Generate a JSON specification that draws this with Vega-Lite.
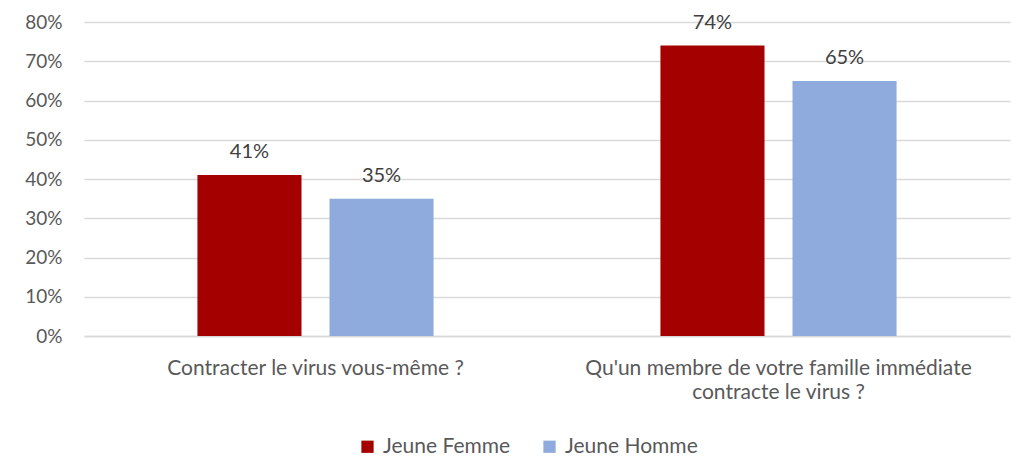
{
  "$schema": "https://vega.github.io/schema/vega-lite/v6.json",
  "width": 926,
  "height": 314,
  "padding": {"left": 84, "top": 22, "right": 1, "bottom": 121},
  "autosize": {"type": "none"},
  "background": "white",
  "config": {
    "view": {"stroke": null},
    "font": "Lato",
    "axis": {"labelFont": "Lato", "labelColor": "#595959", "labelFontSize": 19},
    "legend": {"labelFont": "Lato", "labelColor": "#595959", "labelFontSize": 21}
  },
  "data": {
    "values": [
      {"question": "Contracter le virus vous-même ?", "groupe": "Jeune Femme", "valeur": 0.41},
      {"question": "Contracter le virus vous-même ?", "groupe": "Jeune Homme", "valeur": 0.35},
      {"question": "Qu'un membre de votre famille immédiate|contracte le virus ?", "groupe": "Jeune Femme", "valeur": 0.74},
      {"question": "Qu'un membre de votre famille immédiate|contracte le virus ?", "groupe": "Jeune Homme", "valeur": 0.65}
    ]
  },
  "encoding": {
    "x": {
      "field": "question",
      "type": "nominal",
      "sort": null,
      "scale": {"paddingInner": 0.49, "paddingOuter": 0.245},
      "axis": {
        "title": null,
        "labelAngle": 0,
        "ticks": false,
        "domainColor": "#d9d9d9",
        "domainWidth": 1.3,
        "labelFontSize": 21,
        "labelPadding": 32,
        "labelLineHeight": 24,
        "labelBaseline": "middle",
        "labelExpr": "split(datum.label, '|')",
        "labelLimit": 500
      }
    },
    "xOffset": {
      "field": "groupe",
      "type": "nominal",
      "scale": {"paddingInner": 0.212, "paddingOuter": 0}
    },
    "y": {
      "field": "valeur",
      "type": "quantitative",
      "scale": {"domain": [0, 0.8], "nice": false},
      "axis": {
        "title": null,
        "format": ".0%",
        "values": [0, 0.1, 0.2, 0.3, 0.4, 0.5, 0.6, 0.7, 0.8],
        "labelOverlap": false,
        "ticks": false,
        "domain": false,
        "gridColor": "#d9d9d9",
        "gridWidth": 1.3,
        "labelPadding": 22
      }
    }
  },
  "layer": [
    {
      "mark": {"type": "bar"},
      "encoding": {
        "color": {
          "field": "groupe",
          "type": "nominal",
          "scale": {"domain": ["Jeune Femme", "Jeune Homme"], "range": ["#A50000", "#8FAADC"]},
          "legend": {
            "title": null,
            "orient": "none",
            "legendX": 273,
            "legendY": 414,
            "direction": "horizontal",
            "symbolType": "square",
            "symbolSize": 150,
            "symbolStrokeWidth": 0,
            "columnPadding": 28,
            "labelOffset": 5
          }
        }
      }
    },
    {
      "mark": {"type": "text", "dy": -23, "fontSize": 20, "color": "#404040"},
      "encoding": {
        "text": {"field": "valeur", "type": "quantitative", "format": ".0%"}
      }
    }
  ]
}
